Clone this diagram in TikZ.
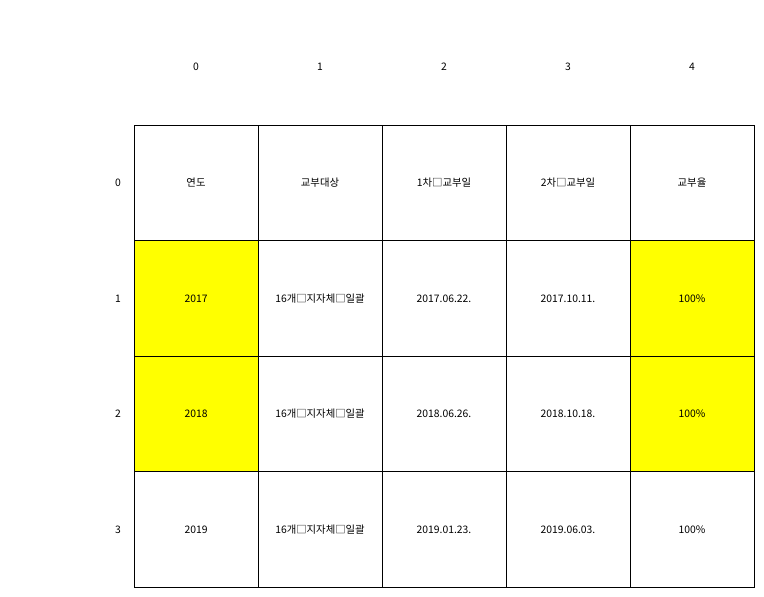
\documentclass[tikz,border=0pt]{standalone}
\usepackage{fontspec}
\setmainfont{Noto Sans CJK KR}
\usepackage{tikz}
\definecolor{hotyellow}{RGB}{255,255,0}

\begin{document}
\begin{tikzpicture}[x=1bp,y=-1bp,line width=1bp,
                    every node/.style={font=\fontsize{10.4}{12}\selectfont,inner sep=0pt,outer sep=0pt},
                    cell/.style={draw,minimum width=124bp,minimum height=115.5bp},
                    hot cell/.style={cell,fill=hotyellow}]
  \useasboundingbox (0,0) rectangle (764,597);

  \node (c0) at (196,67) {0};
  \node (c1) at (320,67) {1};
  \node (c2) at (444,67) {2};
  \node (c3) at (568,67) {3};
  \node (c4) at (692,67) {4};

  \node (r0) at (118,183) {0};
  \node (r1) at (118,298.5) {1};
  \node (r2) at (118,414) {2};
  \node (r3) at (118,529.5) {3};

  \node[cell] (00) at (196,183) {연도};
  \node[cell] (01) at (320,183) {교부대상};
  \node[cell] (02) at (444,183) {1차□교부일};
  \node[cell] (03) at (568,183) {2차□교부일};
  \node[cell] (04) at (692,183) {교부율};

  \node[hot cell] (10) at (196,298.5) {2017};
  \node[cell] (11) at (320,298.5) {16개□지자체□일괄};
  \node[cell] (12) at (444,298.5) {2017.06.22.};
  \node[cell] (13) at (568,298.5) {2017.10.11.};
  \node[hot cell] (14) at (692,298.5) {100\%};

  \node[hot cell] (20) at (196,414) {2018};
  \node[cell] (21) at (320,414) {16개□지자체□일괄};
  \node[cell] (22) at (444,414) {2018.06.26.};
  \node[cell] (23) at (568,414) {2018.10.18.};
  \node[hot cell] (24) at (692,414) {100\%};

  \node[cell] (30) at (196,529.5) {2019};
  \node[cell] (31) at (320,529.5) {16개□지자체□일괄};
  \node[cell] (32) at (444,529.5) {2019.01.23.};
  \node[cell] (33) at (568,529.5) {2019.06.03.};
  \node[cell] (34) at (692,529.5) {100\%};
\end{tikzpicture}
\end{document}
